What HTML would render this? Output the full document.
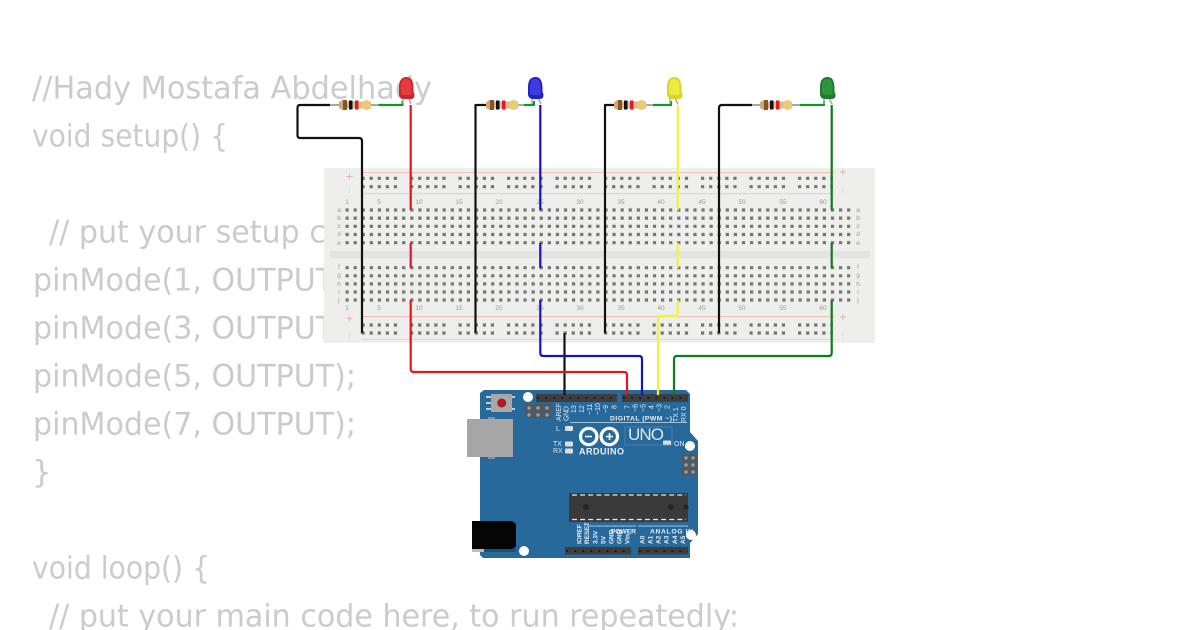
<!DOCTYPE html>
<html><head><meta charset="utf-8"><style>
html,body{margin:0;padding:0;background:#fff;width:1200px;height:630px;overflow:hidden}
svg{display:block;filter:blur(.35px)}
.c{font-family:"DejaVu Sans",sans-serif;font-size:31px;fill:#cbcbcb}
.n{font-family:"Liberation Sans",sans-serif;font-size:6.5px;fill:#9a9a9a;text-anchor:middle}
.w{font-family:"Liberation Sans",sans-serif;font-size:7px;fill:#dfe9f2;text-anchor:start}
.b{font-family:"Liberation Sans",sans-serif;font-weight:bold;fill:#e8eff5}
.wire{fill:none;stroke-width:2.2;stroke-linejoin:round}
</style></head><body>
<svg width="1200" height="630" viewBox="0 0 1200 630" xmlns="http://www.w3.org/2000/svg">
<!-- code text -->
<text class="c" x="32" y="98.500" textLength="400" lengthAdjust="spacingAndGlyphs">//Hady Mostafa Abdelhady</text>
<text class="c" x="32" y="146.500" textLength="196" lengthAdjust="spacingAndGlyphs">void setup() {</text>
<text class="c" x="49" y="242.500" textLength="612" lengthAdjust="spacingAndGlyphs">// put your setup code here, to run once:</text>
<text class="c" x="33" y="290.500" textLength="323" lengthAdjust="spacingAndGlyphs">pinMode(1, OUTPUT);</text>
<text class="c" x="33" y="338.500" textLength="323" lengthAdjust="spacingAndGlyphs">pinMode(3, OUTPUT);</text>
<text class="c" x="33" y="386.500" textLength="323" lengthAdjust="spacingAndGlyphs">pinMode(5, OUTPUT);</text>
<text class="c" x="33" y="434.500" textLength="323" lengthAdjust="spacingAndGlyphs">pinMode(7, OUTPUT);</text>
<text class="c" x="32" y="482.500">}</text>
<text class="c" x="32" y="578.500" textLength="178" lengthAdjust="spacingAndGlyphs">void loop() {</text>
<text class="c" x="49" y="626.500" textLength="690" lengthAdjust="spacingAndGlyphs">// put your main code here, to run repeatedly:</text>

<!-- breadboard -->
<rect x="324" y="168" width="551" height="175" fill="#eeeeec"/>
<rect x="330" y="251" width="540" height="7" fill="#e3e3e1"/>
<g stroke-width=".8" fill="none">
<line x1="361" x2="835" y1="172.5" y2="172.5" stroke="#eeb4ac"/>
<line x1="361" x2="835" y1="193.7" y2="193.7" stroke="#b4dcec"/>
<line x1="361" x2="835" y1="316.7" y2="316.7" stroke="#eeb4ac"/>
<line x1="361" x2="835" y1="339.5" y2="339.5" stroke="#b4dcec"/>
</g>
<g stroke="#757575" stroke-width="3.2" stroke-dasharray="3.2 4.89">
<line x1="345.5" x2="851" y1="210" y2="210"/>
<line x1="345.5" x2="851" y1="218.1" y2="218.1"/>
<line x1="345.5" x2="851" y1="226.3" y2="226.3"/>
<line x1="345.5" x2="851" y1="234.5" y2="234.5"/>
<line x1="345.5" x2="851" y1="242.7" y2="242.7"/>
<line x1="345.5" x2="851" y1="267.7" y2="267.7"/>
<line x1="345.5" x2="851" y1="275.8" y2="275.8"/>
<line x1="345.5" x2="851" y1="283.9" y2="283.9"/>
<line x1="345.5" x2="851" y1="292" y2="292"/>
<line x1="345.5" x2="851" y1="300" y2="300"/>
</g>
<g stroke="#757575" stroke-width="3.2" stroke-dasharray="3.2 4.89 3.2 4.89 3.2 4.89 3.2 4.89 3.2 12.94">
<line x1="361.5" x2="833" y1="178.3" y2="178.3"/>
<line x1="361.5" x2="833" y1="186.7" y2="186.7"/>
<line x1="361.5" x2="833" y1="325" y2="325"/>
<line x1="361.5" x2="833" y1="333" y2="333"/>
</g>
<g stroke="#f0b0a8" stroke-width=".9">
<path d="M346.5 176.5h6M349.5 173.5v6M346.5 318.5h6M349.5 315.5v6M840 172h6M843 169v6M840 317h6M843 314v6"/>
</g>
<g stroke="#c8e0ea" stroke-width=".9">
<path d="M349.5 188v5M349.5 333.500v5M843 188v5M843 333.500v5"/>
</g>
<g class="num">
<text class="n" x="347" y="204">1</text><text class="n" x="379" y="204">5</text><text class="n" x="419" y="204">10</text><text class="n" x="459" y="204">15</text><text class="n" x="499" y="204">20</text><text class="n" x="540" y="204">25</text><text class="n" x="580" y="204">30</text><text class="n" x="621" y="204">35</text><text class="n" x="661" y="204">40</text><text class="n" x="702" y="204">45</text><text class="n" x="742" y="204">50</text><text class="n" x="783" y="204">55</text><text class="n" x="823" y="204">60</text>
<text class="n" x="347" y="310">1</text><text class="n" x="379" y="310">5</text><text class="n" x="419" y="310">10</text><text class="n" x="459" y="310">15</text><text class="n" x="499" y="310">20</text><text class="n" x="540" y="310">25</text><text class="n" x="580" y="310">30</text><text class="n" x="621" y="310">35</text><text class="n" x="661" y="310">40</text><text class="n" x="702" y="310">45</text><text class="n" x="742" y="310">50</text><text class="n" x="783" y="310">55</text><text class="n" x="823" y="310">60</text>
<text class="n" x="339" y="212">a</text><text class="n" x="339" y="220">b</text><text class="n" x="339" y="228">c</text><text class="n" x="339" y="236">d</text><text class="n" x="339" y="245">e</text><text class="n" x="339" y="269">f</text><text class="n" x="339" y="277">g</text><text class="n" x="339" y="286">h</text><text class="n" x="339" y="294">i</text><text class="n" x="339" y="302">j</text>
<text class="n" x="858" y="212">a</text><text class="n" x="858" y="220">b</text><text class="n" x="858" y="228">c</text><text class="n" x="858" y="236">d</text><text class="n" x="858" y="245">e</text><text class="n" x="858" y="269">f</text><text class="n" x="858" y="277">g</text><text class="n" x="858" y="286">h</text><text class="n" x="858" y="294">i</text><text class="n" x="858" y="302">j</text>
</g>

<!-- arduino -->
<path d="M484 390H686L690 394V432L698 441V534L690 543V558H483L480 555V393Z" fill="#28699b"/>
<rect x="536" y="394" width="81" height="8" fill="#3e3e3e"/>
<rect x="622" y="394" width="66" height="8" fill="#3e3e3e"/>
<rect x="565" y="547" width="66" height="7.500" fill="#3e3e3e"/>
<rect x="638" y="547" width="50" height="7.500" fill="#3e3e3e"/>
<g stroke="#1f1f1f" stroke-width="2" stroke-dasharray="2 6.090">
<line x1="537" x2="617" y1="398" y2="398"/><line x1="623" x2="688" y1="398" y2="398"/>
<line x1="566" x2="631" y1="551" y2="551"/><line x1="639" x2="688" y1="551" y2="551"/>
</g>
<!-- reset -->
<path d="M486 397h6M486 403h6M486 409h6M512 397h3M512 409h3" stroke="#c9c9c9" stroke-width="2"/>
<rect x="491" y="394" width="21" height="18" fill="#a8a8a8"/>
<circle cx="501.700" cy="403" r="4.500" fill="#b01a1e"/>
<!-- icsp -->
<rect x="525" y="404" width="27" height="14" fill="#4a5a66"/>
<g fill="#b09a80"><circle cx="529" cy="408" r="1.700"/><circle cx="538" cy="408" r="1.700"/><circle cx="547" cy="408" r="1.700"/><circle cx="529" cy="415" r="1.700"/><circle cx="538" cy="415" r="1.700"/><circle cx="547" cy="415" r="1.700"/></g>
<rect x="682" y="454" width="15" height="22" fill="#4a5a66"/>
<g fill="#b09a80"><circle cx="686" cy="458" r="1.700"/><circle cx="693" cy="458" r="1.700"/><circle cx="686" cy="465" r="1.700"/><circle cx="693" cy="465" r="1.700"/><circle cx="686" cy="472" r="1.700"/><circle cx="693" cy="472" r="1.700"/></g>
<!-- holes -->
<g fill="#fff"><circle cx="528" cy="397" r="5"/><circle cx="690" cy="446" r="5"/><circle cx="691" cy="535" r="5"/><circle cx="524" cy="551" r="5"/></g>
<!-- usb -->
<rect x="488" y="417" width="7" height="42" fill="#7f929f"/>
<rect x="467" y="419" width="46" height="38" fill="#a6a6a6"/>
<!-- jack -->
<rect x="472" y="525" width="44" height="27" fill="#1e4f78"/>
<rect x="472" y="549" width="12" height="3" fill="#bbbbbb"/>
<path d="M472 521H512L516 524V546L512 549H472Z" fill="#050505"/>
<!-- chip -->
<rect x="569" y="493" width="119" height="29" fill="#3a3a3a"/>
<line x1="572" x2="686" y1="495" y2="495" stroke="#e6e6e6" stroke-width="1.300" stroke-dasharray="5 3.100"/>
<line x1="572" x2="686" y1="519.500" y2="519.500" stroke="#e6e6e6" stroke-width="1.300" stroke-dasharray="5 3.100"/>
<g fill="#262626"><circle cx="586" cy="507" r="3"/><circle cx="671" cy="507" r="3"/><circle cx="686" cy="507" r="2.500"/></g>
<!-- pin labels -->
<g class="lab">
<text class="w" transform="translate(561,421) rotate(-90)" textLength="18">AREF</text>
<text class="w" transform="translate(568.500,421) rotate(-90)" textLength="15">GND</text>
<text class="w" transform="translate(576,413) rotate(-90)">13</text>
<text class="w" transform="translate(584,413) rotate(-90)">12</text>
<text class="w" transform="translate(592,415) rotate(-90)">~11</text>
<text class="w" transform="translate(600,415) rotate(-90)">~10</text>
<text class="w" transform="translate(608,413) rotate(-90)">~9</text>
<text class="w" transform="translate(616.500,409) rotate(-90)">8</text>
<text class="w" transform="translate(629.500,409) rotate(-90)">7</text>
<text class="w" transform="translate(637.500,412) rotate(-90)">~6</text>
<text class="w" transform="translate(645.500,412) rotate(-90)">~5</text>
<text class="w" transform="translate(653.500,409) rotate(-90)">4</text>
<text class="w" transform="translate(661.500,412) rotate(-90)">~3</text>
<text class="w" transform="translate(669.500,409) rotate(-90)">2</text>
<text class="w" transform="translate(678,422) rotate(-90)">TX  1</text>
<text class="w" transform="translate(686,422) rotate(-90)">RX  0</text>
<text class="b" x="610" y="420.500" font-size="6.800" textLength="62">DIGITAL (PWM ~)</text>
<text class="w" x="556" y="431">L</text><text class="w" x="553" y="446">TX</text><text class="w" x="553" y="453">RX</text><text class="w" x="674" y="446">ON</text>
<text class="b" x="579" y="454.500" font-size="9" textLength="45">ARDUINO</text>
<text x="628" y="440" font-family="Liberation Sans,sans-serif" font-size="17" fill="#dbe7f0" textLength="36">UNO</text>
<text class="b" transform="translate(581.500,544) rotate(-90)" font-size="6.500">IOREF</text>
<text class="b" transform="translate(589,544) rotate(-90)" font-size="6.500">RESET</text>
<text class="b" transform="translate(597.500,544) rotate(-90)" font-size="6.500">3.3V</text>
<text class="b" transform="translate(605.500,544) rotate(-90)" font-size="6.500">5V</text>
<text class="b" transform="translate(613.500,544) rotate(-90)" font-size="6.500">GND</text>
<text class="b" transform="translate(621.500,544) rotate(-90)" font-size="6.500">GND</text>
<text class="b" transform="translate(629.500,544) rotate(-90)" font-size="6.500">Vin</text>
<text class="b" transform="translate(644.500,544) rotate(-90)" font-size="6.500">A0</text>
<text class="b" transform="translate(652.500,544) rotate(-90)" font-size="6.500">A1</text>
<text class="b" transform="translate(660.500,544) rotate(-90)" font-size="6.500">A2</text>
<text class="b" transform="translate(668.500,544) rotate(-90)" font-size="6.500">A3</text>
<text class="b" transform="translate(677,544) rotate(-90)" font-size="6.500">A4</text>
<text class="b" transform="translate(685,544) rotate(-90)" font-size="6.500">A5</text>
<text class="b" x="611" y="533.500" font-size="6.800" textLength="25">POWER</text>
<text class="b" x="650" y="533.500" font-size="6.800" textLength="43">ANALOG IN</text>
</g>
<path d="M570 422.500H687M587 526H636M638 526H688" stroke="#cfdde8" stroke-width=".7" fill="none"/>
<rect x="565" y="426" width="8" height="5" rx="1" fill="#d8dfe4"/>
<rect x="565" y="441.500" width="8" height="5" rx="1" fill="#d8dfe4"/>
<rect x="565" y="448.500" width="8" height="5" rx="1" fill="#d8dfe4"/>
<rect x="663" y="440.500" width="8" height="5" rx="1" fill="#d8dfe4"/>
<path d="M625 427H672V445H625Z" fill="none" stroke="#4f88b3" stroke-width=".7"/>
<g fill="none" stroke="#fff" stroke-width="3.200">
<circle cx="588.700" cy="436.500" r="8.200"/><circle cx="609.300" cy="436.500" r="8.200"/>
</g>
<path d="M585 436.500h7M606 436.500h7M609.500 433v7" stroke="#fff" stroke-width="1.600"/>

<!-- resistor leads -->
<g>
<path d="M330 105H380" stroke="#a8a8a8" stroke-width="2"/>
<path d="M475 105H525" stroke="#a8a8a8" stroke-width="2"/>
<path d="M605 105H655" stroke="#a8a8a8" stroke-width="2"/>
<path d="M745 105H800" stroke="#a8a8a8" stroke-width="2"/>
</g>
<!-- resistors -->
<g>
<rect x="339" y="101.500" width="32" height="7" fill="#d8bd9c"/><rect x="339" y="100" width="9" height="10" rx="4.500" fill="#d2a878"/><rect x="343" y="100" width="4" height="10" fill="#8a5324"/><rect x="349" y="100.500" width="3.500" height="9" fill="#111"/><rect x="355" y="100.500" width="3.500" height="9" fill="#e61a1a"/><rect x="362" y="100" width="9" height="10" rx="4.500" fill="#ecca72"/>
<rect x="486" y="101.500" width="32" height="7" fill="#d8bd9c"/><rect x="486" y="100" width="9" height="10" rx="4.500" fill="#d2a878"/><rect x="490" y="100" width="4" height="10" fill="#8a5324"/><rect x="496" y="100.500" width="3.500" height="9" fill="#111"/><rect x="502" y="100.500" width="3.500" height="9" fill="#e61a1a"/><rect x="509" y="100" width="9" height="10" rx="4.500" fill="#ecca72"/>
<rect x="614" y="101.500" width="32" height="7" fill="#d8bd9c"/><rect x="614" y="100" width="9" height="10" rx="4.500" fill="#d2a878"/><rect x="618" y="100" width="4" height="10" fill="#8a5324"/><rect x="624" y="100.500" width="3.500" height="9" fill="#111"/><rect x="630" y="100.500" width="3.500" height="9" fill="#e61a1a"/><rect x="637" y="100" width="9" height="10" rx="4.500" fill="#ecca72"/>
<rect x="760" y="101.500" width="32" height="7" fill="#d8bd9c"/><rect x="760" y="100" width="9" height="10" rx="4.500" fill="#d2a878"/><rect x="764" y="100" width="4" height="10" fill="#8a5324"/><rect x="770" y="100.500" width="3.500" height="9" fill="#111"/><rect x="776" y="100.500" width="3.500" height="9" fill="#e61a1a"/><rect x="783" y="100" width="9" height="10" rx="4.500" fill="#ecca72"/>
</g>
<!-- green resistor to LED -->
<g class="wire" stroke="#12962a">
<path d="M378.500 105H402.500V101"/>
<path d="M524 105H534V101"/>
<path d="M653 105H671V101"/>
<path d="M800 105H824V101"/>
</g>
<!-- LED legs -->
<g stroke="#a8a8a8" stroke-width="1.500" fill="none">
<path d="M403 98V104M409 98L411 104"/><path d="M532 98V104M538 98L541 104"/><path d="M670 98V104M675 98L678 104"/><path d="M824 98V104M829 98L832 104"/>
</g>
<!-- LEDs -->
<g>
<path d="M399 87C399 80 402 77 406.500 77C411 77 413 80 413.500 87V92C415.500 95 414.500 99 411 99H404C401 99 399 97 399 94Z" fill="#c9282c"/>
<path d="M401 87C401 81 403 79 406 79C410 79 411.500 82 411.500 88V95H403C401 95 401 93 401 91Z" fill="#e63a40"/>
<path d="M528 87C528 80 531 77 535.500 77C540 77 542 80 542.500 87V92C544.500 95 543.500 99 540 99H533C530 99 528 97 528 94Z" fill="#2424c4"/>
<path d="M530 87C530 81 532 79 535 79C539 79 540.500 82 540.500 88V95H532C530 95 530 93 530 91Z" fill="#3c3ce0"/>
<path d="M667 87C667 80 670 77 674.500 77C679 77 681 80 681.500 87V92C683.500 95 682.500 99 679 99H672C669 99 667 97 667 94Z" fill="#d8d42a"/>
<path d="M669 87C669 81 671 79 674 79C678 79 679.500 82 679.500 88V95H671C669 95 669 93 669 91Z" fill="#eeea40"/>
<path d="M820 87C820 80 823 77 827.500 77C832 77 834 80 834.500 87V92C836.500 95 835.500 99 832 99H825C822 99 820 97 820 94Z" fill="#1f7a30"/>
<path d="M822 87C822 81 824 79 827 79C831 79 832.500 82 832.500 88V95H824C822 95 822 93 822 91Z" fill="#2e9440"/>
</g>
<!-- wires -->
<g class="wire">
<path stroke="#111" d="M330 105H300Q297.500 105 297.500 108V135Q297.500 138 300 138H359Q362 138 362 141V333"/>
<path stroke="#111" d="M486 105H475.500V333"/>
<path stroke="#111" d="M614 105H605V333"/>
<path stroke="#111" d="M752 105H722Q719 105 719 108V333"/>
<path stroke="#111" d="M564.500 333V395"/>
<path stroke="#e8141c" d="M410.700 105V210M410.700 243V268M410.700 300V369Q410.700 372 414 372H624Q627 372 627 375V395"/>
<path stroke="#1414b8" d="M540.300 105V210M540.300 243V268M540.300 300V353Q540.300 356 543.500 356H639Q642 356 642 359V395"/>
<path stroke="#f2f23c" d="M677.700 105V210M677.700 243V268M677.700 300V313Q677.700 316 675 316H661Q658 316 658 319V395"/>
<path stroke="#0c7c1c" d="M831.700 105V210M831.700 243V268M831.700 300V353Q831.700 356 829 356H677Q674 356 674 359V395"/>
</g>
</svg>
</body></html>
